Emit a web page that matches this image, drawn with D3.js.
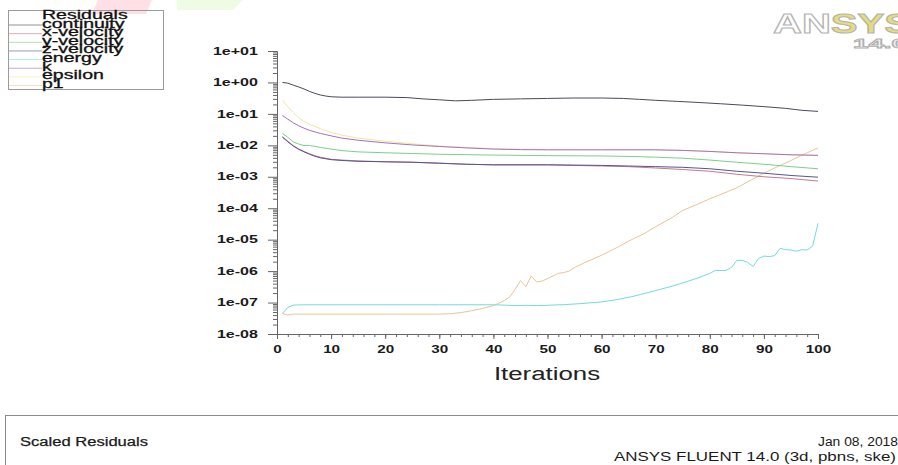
<!DOCTYPE html>
<html>
<head>
<meta charset="utf-8">
<script src="https://cdn.jsdelivr.net/npm/d3@7"></script>
<style>
  body { margin: 0; background: #fff; }
  svg { display: block; font-family: "Liberation Sans", Arial, sans-serif; }
</style>
</head>
<body>
<svg id="chart" width="898" height="465"></svg>
<script>
// residual histories, [iteration, value]
var continuity = [[1,1.0],[2,0.95],[3,0.82],[4,0.72],[5,0.62],[6,0.52],[7,0.45],[8,0.4],[9,0.37],[10,0.35],[12,0.34],[15,0.34],[20,0.34],[24,0.33],[27,0.3],[30,0.28],[33,0.26],[36,0.27],[40,0.29],[45,0.3],[50,0.31],[55,0.32],[60,0.32],[64,0.31],[67,0.29],[70,0.27],[74,0.25],[78,0.23],[82,0.21],[86,0.19],[90,0.17],[94,0.15],[97,0.13],[100,0.12]];
var xVelocity = [[1,0.019],[2,0.0135],[3,0.0098],[4,0.0077],[5,0.0064],[6,0.0054],[7,0.0047],[8,0.0042],[10,0.0036],[12,0.0034],[15,0.0032],[20,0.003],[25,0.0029],[30,0.0027],[35,0.0025],[40,0.0024],[50,0.0024],[60,0.0022],[65,0.0021],[70,0.0019],[75,0.0017],[80,0.0015],[85,0.0012],[90,0.001],[95,0.00088],[100,0.00073]];
var yVelocity = [[1,0.024],[2,0.018],[3,0.013],[4,0.011],[5,0.0098],[6,0.0099],[7,0.0093],[8,0.0086],[10,0.0076],[12,0.0068],[15,0.0062],[20,0.0058],[25,0.0055],[30,0.0052],[40,0.0049],[50,0.0047],[60,0.0046],[66,0.0044],[70,0.0042],[75,0.0039],[80,0.0034],[85,0.0029],[90,0.0025],[95,0.0021],[100,0.0018]];
var zVelocity = [[1,0.018],[2,0.013],[3,0.0095],[4,0.0075],[5,0.0062],[6,0.0052],[7,0.0045],[8,0.004],[10,0.0035],[12,0.0033],[15,0.0031],[20,0.003],[25,0.0029],[30,0.0027],[35,0.0025],[40,0.0024],[50,0.0024],[60,0.0023],[65,0.0022],[70,0.0021],[75,0.002],[80,0.0018],[85,0.0015],[90,0.0013],[95,0.0011],[100,0.00097]];
var energy = [[1,4.5e-8],[2,7e-8],[3,8.3e-8],[5,8.5e-8],[10,8.5e-8],[20,8.5e-8],[30,8.5e-8],[40,8.5e-8],[42,8.3e-8],[44,8e-8],[46,8.2e-8],[48,8e-8],[50,8.2e-8],[53,8.6e-8],[56,9.2e-8],[60,1.05e-7],[63,1.25e-7],[66,1.6e-7],[70,2.4e-7],[73,3.3e-7],[76,4.8e-7],[78,6.2e-7],[80,8.5e-7],[81,1.05e-6],[83,1.05e-6],[84,1.3e-6],[85,2.2e-6],[86,2.2e-6],[87,1.9e-6],[88,1.4e-6],[89,2.5e-6],[90,3e-6],[91,2.9e-6],[92,3.1e-6],[93,5.3e-6],[94,4.8e-6],[95,4.7e-6],[96,4.3e-6],[97,4.8e-6],[98,4.7e-6],[99,6.2e-6],[100,3.3e-5]];
var k = [[1,0.089],[2,0.068],[3,0.052],[4,0.042],[5,0.035],[6,0.03],[8,0.024],[10,0.02],[12,0.017],[15,0.0145],[20,0.012],[25,0.0103],[30,0.0092],[35,0.0083],[40,0.0076],[45,0.0073],[50,0.0072],[60,0.0072],[70,0.0072],[75,0.0069],[80,0.0064],[85,0.0058],[90,0.0054],[95,0.005],[100,0.0048]];
var epsilon = [[1,0.27],[2,0.17],[3,0.11],[4,0.075],[5,0.058],[6,0.047],[8,0.034],[10,0.026],[12,0.021],[15,0.017],[20,0.0135],[25,0.0112],[30,0.0095],[35,0.0086],[40,0.0079],[45,0.0075],[50,0.0073],[60,0.0073],[70,0.0072],[75,0.0069],[80,0.0064],[85,0.0058],[90,0.0054],[95,0.005],[100,0.0048]];
var p1 = [[1,4.5e-8],[2,4e-8],[3,4.3e-8],[10,4.3e-8],[20,4.3e-8],[30,4.3e-8],[32,4.4e-8],[34,4.8e-8],[36,5.5e-8],[38,6.5e-8],[40,8e-8],[41,9.5e-8],[42,1.15e-7],[43,1.5e-7],[44,2.6e-7],[45,5e-7],[46,3.2e-7],[47,7e-7],[48,4.5e-7],[49,4.8e-7],[50,5.8e-7],[51,7e-7],[52,8.5e-7],[53,9e-7],[54,1e-6],[55,1.3e-6],[57,1.9e-6],[60,3.2e-6],[63,5.8e-6],[65,9e-6],[68,1.6e-5],[70,2.6e-5],[73,5e-5],[75,8.5e-5],[78,1.4e-4],[80,2e-4],[83,3.2e-4],[85,4.5e-4],[88,8.5e-4],[90,1.3e-3],[93,2.3e-3],[95,3.3e-3],[98,5.8e-3],[100,8.3e-3]];

var seriesNames = ['continuity', 'x-velocity', 'y-velocity', 'z-velocity', 'energy', 'k', 'epsilon', 'p1'];
var seriesData = [continuity, xVelocity, yVelocity, zVelocity, energy, k, epsilon, p1];
var seriesColors = ['#4a4a58', '#c8788e', '#7ccf8a', '#55558e', '#72dcdc', '#a870b8', '#f4e6a0', '#ecc494'];
// order the curves are painted in (last on top)
var drawOrder = [6, 7, 4, 1, 3, 2, 5, 0];

var yTicks = [1e1, 1e0, 1e-1, 1e-2, 1e-3, 1e-4, 1e-5, 1e-6, 1e-7, 1e-8];
var xTicks = [0, 10, 20, 30, 40, 50, 60, 70, 80, 90, 100];

var svg = d3.select('#chart');

var x = d3.scaleLinear().domain([0, 100]).range([277, 818]);
var y = d3.scaleLog().domain([1e-8, 10]).range([334, 51]);

// fluent style exponent label, 1e+01 / 1e-05
var expFormat = function(v) {
  var e = Math.round(Math.log10(v));
  var s = Math.abs(e) < 10 ? '0' + Math.abs(e) : '' + Math.abs(e);
  return '1e' + (e < 0 ? '-' : '+') + s;
};

// faint watermark bits along the top edge
svg.append('polygon').attr('points', '98,0 152,0 146,14 92,14').attr('fill', '#ffe0e6');
svg.append('polygon').attr('points', '177,0 243,0 233,10 177,10').attr('fill', '#f0fbe6');

// ansys logo top right
var logo = svg.append('text')
  .attr('x', 773).attr('y', 33)
  .attr('font-size', 27).attr('font-weight', 'bold')
  .attr('stroke', '#b4b4b4').attr('stroke-width', 1)
  .attr('textLength', 138).attr('lengthAdjust', 'spacingAndGlyphs');
logo.append('tspan').attr('fill', '#ffffff').text('AN');
logo.append('tspan').attr('fill', '#e6dc78').text('SYS');
svg.append('text')
  .attr('x', 853).attr('y', 48)
  .attr('font-size', 12).attr('font-weight', 'bold')
  .attr('fill', '#f4f4f4').attr('stroke', '#b0b0b0').attr('stroke-width', 0.8)
  .attr('textLength', 54).attr('lengthAdjust', 'spacingAndGlyphs')
  .text('14.0');

// legend box
var legend = svg.append('g');
legend.append('rect')
  .attr('x', 8.5).attr('y', 10.5).attr('width', 155).attr('height', 79)
  .attr('fill', 'none').attr('stroke', '#9a9a9a');
legend.append('text')
  .attr('transform', 'translate(42,19) scale(1.55,1)')
  .attr('font-size', 12.6).attr('fill', '#111')
  .attr('stroke', '#111').attr('stroke-width', 0.3)
  .text('Residuals');
seriesNames.forEach(function(name, i) {
  var base = 27.5 + 8.65 * i;
  legend.append('line')
    .attr('x1', 9).attr('x2', 42).attr('y1', base - 2.5).attr('y2', base - 2.5)
    .attr('stroke', seriesColors[i]).attr('stroke-opacity', 0.6);
  legend.append('text')
    .attr('transform', 'translate(42,' + base + ') scale(1.55,1)')
    .attr('font-size', 12.6).attr('fill', '#111')
    .attr('stroke', '#111').attr('stroke-width', 0.3)
    .text(name);
});

// y axis, major and minor ticks
var minorY = [];
for (var e = -8; e < 1; e++) {
  for (var m = 2; m < 10; m++) minorY.push(m * Math.pow(10, e));
}
svg.append('g')
  .attr('transform', 'translate(277,0)')
  .call(d3.axisLeft(y).tickValues(minorY).tickSize(4).tickFormat(''))
  .call(function(g) { g.select('.domain').remove(); })
  .selectAll('line').attr('stroke', '#666');
var yAxis = svg.append('g')
  .attr('transform', 'translate(277,0)')
  .call(d3.axisLeft(y).tickValues(yTicks).tickSize(9).tickPadding(3).tickFormat(expFormat));
yAxis.select('.domain').attr('stroke', '#666');
yAxis.selectAll('line').attr('stroke', '#666');
yAxis.selectAll('text')
  .attr('font-size', 10).attr('font-weight', 'bold').attr('fill', '#1a1a1a')
  .attr('transform', 'scale(1.6,1)');

// x axis
svg.append('g')
  .attr('transform', 'translate(0,334)')
  .call(d3.axisBottom(x).tickValues(d3.range(0, 101, 2)).tickSize(3).tickFormat(''))
  .call(function(g) { g.select('.domain').remove(); })
  .selectAll('line').attr('stroke', '#666');
var xAxis = svg.append('g')
  .attr('transform', 'translate(0,334)')
  .call(d3.axisBottom(x).tickValues(xTicks).tickSize(5).tickPadding(7));
xAxis.select('.domain').attr('stroke', '#666');
xAxis.selectAll('line').attr('stroke', '#666');
xAxis.selectAll('text')
  .attr('font-size', 10.5).attr('font-weight', 'bold').attr('fill', '#1a1a1a')
  .attr('transform', 'scale(1.45,1)');

svg.append('text')
  .attr('transform', 'translate(547,380) scale(1.36,1)')
  .attr('text-anchor', 'middle').attr('font-size', 19).attr('fill', '#222')
  .text('Iterations');

// residual curves
var line = d3.line()
  .x(function(d) { return x(d[0]); })
  .y(function(d) { return y(d[1]); });

svg.append('g').selectAll('path')
  .data(drawOrder)
  .enter().append('path')
  .attr('d', function(i) { return line(seriesData[i]); })
  .attr('fill', 'none')
  .attr('stroke', function(i) { return seriesColors[i]; })
  .attr('stroke-width', 1)
  .attr('stroke-linejoin', 'round');

// caption box at the bottom
svg.append('rect')
  .attr('x', 5.5).attr('y', 415.5).attr('width', 900).attr('height', 60)
  .attr('fill', 'none').attr('stroke', '#8a8a8a');
svg.append('text')
  .attr('x', 20).attr('y', 446)
  .attr('font-size', 12.5).attr('fill', '#1a1a1a')
  .attr('stroke', '#1a1a1a').attr('stroke-width', 0.25)
  .attr('textLength', 128).attr('lengthAdjust', 'spacingAndGlyphs')
  .text('Scaled Residuals');
svg.append('text')
  .attr('x', 818).attr('y', 446)
  .attr('font-size', 12.5).attr('fill', '#1a1a1a')
  .attr('textLength', 80).attr('lengthAdjust', 'spacingAndGlyphs')
  .text('Jan 08, 2018');
svg.append('text')
  .attr('x', 614).attr('y', 461)
  .attr('font-size', 12.5).attr('fill', '#1a1a1a')
  .attr('textLength', 282).attr('lengthAdjust', 'spacingAndGlyphs')
  .text('ANSYS FLUENT 14.0 (3d, pbns, ske)');
</script>
</body>
</html>
